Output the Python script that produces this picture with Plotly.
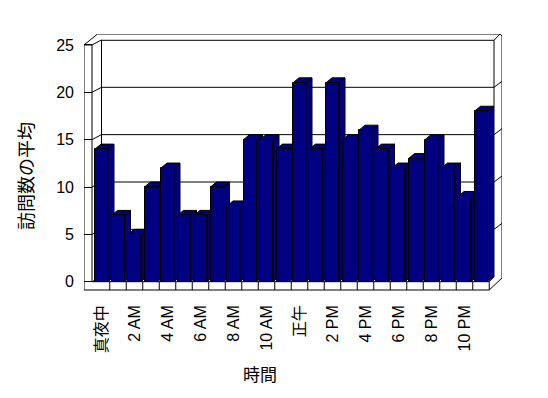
import plotly.graph_objects as go

# ---------------- data ----------------
hours = list(range(24))
visits = [14, 7, 5, 10, 12, 7, 7, 10, 8, 15, 15, 14,
          21, 14, 21, 15, 16, 14, 12, 13, 15, 12, 9, 18]
tick_pos = [0, 2, 4, 6, 8, 10, 12, 14, 16, 18, 20, 22]
tick_text = ["真夜中", "2 AM", "4 AM", "6 AM", "8 AM", "10 AM",
             "正午", "2 PM", "4 PM", "6 PM", "8 PM", "10 PM"]
y_ticks = [0, 5, 10, 15, 20, 25]
x_title = "時間"
y_title = "訪問数の平均"

# ---------------- style / geometry ----------------
NAVY = "#000080"
FONT = "Liberation Sans, Arial, Noto Sans CJK JP, sans-serif"
W, H = 548, 398
PX_U, PX_V = 16.5, 9.47          # pixels per category / per value unit
X0_PX, Y0_PX = 101.5, 281.7      # pixel of (u=0, v=0)
L_PX, R_PX, T_PX, B_PX = 84, 502, 34, 291


def U(px):
    return (px - X0_PX) / PX_U


def V(py):
    return (Y0_PX - py) / PX_V


BAR_W = 13 / PX_U
BAR_DX = 6 / PX_U
BAR_DY = 5 / PX_V

shapes = []


def seg(p, q, width=1):
    shapes.append(dict(type="line", xref="x", yref="y", layer="below",
                       x0=U(p[0]), y0=V(p[1]), x1=U(q[0]), y1=V(q[1]),
                       line=dict(color="black", width=width)))


def vy(v):
    return Y0_PX - v * PX_V


# back wall + side wall gridlines
for v in y_ticks:
    yf = vy(v)
    yb = yf - 5
    seg((92, yf), (101.5, yb))
    if 0 < v < 25:
        seg((101.5, yb), (494, yb))
        seg((494, yb), (502, yb - 6))

# frame
frame = [
    ((84, 45), (84, 290)),
    ((92, 45), (92, 281.7)),
    ((84, 45), (92, 45)),
    ((84, 45), (97.5, 34)),
    ((97.5, 34), (500, 34)),
    ((101.5, 40.3), (494, 40.3)),
    ((494, 40.3), (500, 34)),
    ((500, 34), (502, 36)),
    ((502, 36), (502, 278)),
    ((494, 40.3), (494, 276.7)),
    ((494, 276.7), (489.25, 281.7)),
    ((502, 278), (489.25, 290)),
    ((84, 290), (489.25, 290)),
    ((92, 281.7), (489.25, 281.7)),
    ((489.25, 281.7), (489.25, 290)),
    ((101.5, 40.3), (101.5, 276.7)),
    ((101.5, 276.7), (494, 276.7)),
]
for p, q in frame:
    seg(p, q)

# floor category separators
for k in range(1, len(hours)):
    shapes.append(dict(type="line", xref="x", yref="y", layer="below",
                       x0=k - 0.5, x1=k - 0.5, y0=0, y1=V(290),
                       line=dict(color="black", width=1)))

# 3D side and top faces of the bars (from data)
for i, v in zip(hours, visits):
    a = i + BAR_W / 2
    l = i - BAR_W / 2
    side = (f"M {a},0 L {a + BAR_DX},{BAR_DY} L {a + BAR_DX},{v + BAR_DY} "
            f"L {a},{v} Z")
    top = (f"M {l},{v} L {l + BAR_DX},{v + BAR_DY} L {a + BAR_DX},{v + BAR_DY} "
           f"L {a},{v} Z")
    for path in (side, top):
        shapes.append(dict(type="path", xref="x", yref="y", layer="below",
                           path=path, fillcolor=NAVY,
                           line=dict(color="black", width=1)))

fig = go.Figure()
fig.add_trace(go.Bar(
    x=hours, y=visits, width=BAR_W,
    marker=dict(color=NAVY, line=dict(color="black", width=1)),
    hoverinfo="skip", showlegend=False,
))

fig.update_layout(
    width=W, height=H,
    margin=dict(l=L_PX, r=W - R_PX, t=T_PX, b=H - B_PX, pad=0),
    paper_bgcolor="white", plot_bgcolor="rgba(0,0,0,0)",
    showlegend=False,
    bargap=0,
    shapes=shapes,
    font=dict(family=FONT, color="black", size=16),
    xaxis=dict(range=[U(L_PX), U(R_PX)], tickmode="array",
               tickvals=tick_pos, ticktext=tick_text, tickangle=-90,
               showgrid=False, zeroline=False, showline=False, ticks="",
               ticklabelstandoff=10,
               tickfont=dict(family=FONT, size=16, color="black")),
    yaxis=dict(range=[V(B_PX), V(T_PX)], tickmode="array",
               tickvals=y_ticks, showgrid=False, zeroline=False,
               showline=False, ticks="inside", ticklen=8, tickwidth=1,
               tickcolor="black", ticklabelstandoff=9,
               tickfont=dict(family=FONT, size=16, color="black")),
    annotations=[
        dict(text=x_title, xref="paper", yref="paper",
             x=(260 - L_PX) / (R_PX - L_PX), y=-(375 - B_PX) / (B_PX - T_PX),
             xanchor="center", yanchor="middle", showarrow=False,
             font=dict(family=FONT, size=17, color="black")),
        dict(text=y_title, xref="paper", yref="paper", textangle=-90,
             x=-(L_PX - 27) / (R_PX - L_PX), y=(B_PX - 176) / (B_PX - T_PX),
             xanchor="center", yanchor="middle", showarrow=False,
             font=dict(family=FONT, size=18, color="black")),
    ],
)

fig.write_html("out.html")
